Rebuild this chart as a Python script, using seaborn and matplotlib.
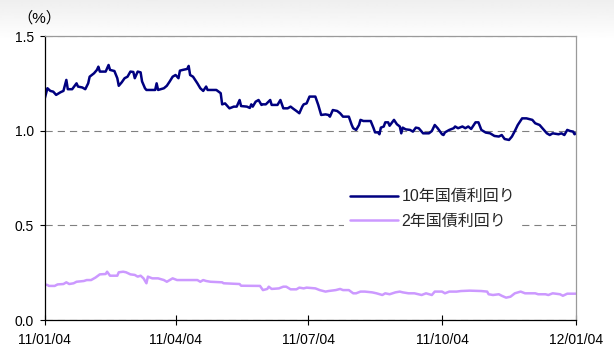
import numpy as np
import pandas as pd
import matplotlib
matplotlib.use("Agg")
import matplotlib.pyplot as plt
import matplotlib.dates as mdates
from matplotlib.ticker import FixedLocator, FormatStrFormatter
import seaborn as sns

# ---- data -------------------------------------------------------------
series_names = ["10年国債利回り", "2年国債利回り"]

dates_10y = [
    "2011-01-04", "2011-01-06", "2011-01-08", "2011-01-10", "2011-01-12", "2011-01-15",
    "2011-01-17", "2011-01-19", "2011-01-20", "2011-01-23", "2011-01-26", "2011-01-27",
    "2011-01-30", "2011-02-01", "2011-02-03", "2011-02-04", "2011-02-07", "2011-02-09",
    "2011-02-10", "2011-02-11", "2011-02-15", "2011-02-17", "2011-02-18", "2011-02-21",
    "2011-02-23", "2011-02-24", "2011-02-26", "2011-02-28", "2011-03-02", "2011-03-04",
    "2011-03-06", "2011-03-07", "2011-03-09", "2011-03-11", "2011-03-12", "2011-03-14",
    "2011-03-15", "2011-03-21", "2011-03-22", "2011-03-23", "2011-03-27", "2011-03-29",
    "2011-03-31", "2011-04-02", "2011-04-04", "2011-04-06", "2011-04-07", "2011-04-09",
    "2011-04-12", "2011-04-13", "2011-04-14", "2011-04-16", "2011-04-19", "2011-04-21",
    "2011-04-23", "2011-04-25", "2011-04-26", "2011-05-02", "2011-05-05", "2011-05-06",
    "2011-05-08", "2011-05-10", "2011-05-11", "2011-05-14", "2011-05-16", "2011-05-18",
    "2011-05-19", "2011-05-23", "2011-05-25", "2011-05-26", "2011-05-27", "2011-05-29",
    "2011-05-31", "2011-06-02", "2011-06-03", "2011-06-05", "2011-06-08", "2011-06-09",
    "2011-06-13", "2011-06-15", "2011-06-17", "2011-06-20", "2011-06-22", "2011-06-24",
    "2011-06-26", "2011-06-28", "2011-06-30", "2011-07-01", "2011-07-03", "2011-07-05",
    "2011-07-09", "2011-07-11", "2011-07-13", "2011-07-16", "2011-07-18", "2011-07-19",
    "2011-07-21", "2011-07-24", "2011-07-26", "2011-07-28", "2011-08-01", "2011-08-03",
    "2011-08-04", "2011-08-06", "2011-08-08", "2011-08-09", "2011-08-11", "2011-08-16",
    "2011-08-18", "2011-08-19", "2011-08-21", "2011-08-22", "2011-08-23", "2011-08-25",
    "2011-08-26", "2011-08-28", "2011-08-29", "2011-09-01", "2011-09-03", "2011-09-05",
    "2011-09-06", "2011-09-07", "2011-09-09", "2011-09-12", "2011-09-14", "2011-09-16",
    "2011-09-18", "2011-09-21", "2011-09-25", "2011-09-27", "2011-09-29", "2011-10-01",
    "2011-10-04", "2011-10-05", "2011-10-06", "2011-10-09", "2011-10-12", "2011-10-13",
    "2011-10-15", "2011-10-18", "2011-10-20", "2011-10-22", "2011-10-24", "2011-10-27",
    "2011-10-29", "2011-10-31", "2011-11-03", "2011-11-06", "2011-11-09", "2011-11-12",
    "2011-11-14", "2011-11-16", "2011-11-19", "2011-11-21", "2011-11-23", "2011-11-25",
    "2011-11-28", "2011-12-01", "2011-12-05", "2011-12-07", "2011-12-10", "2011-12-13",
    "2011-12-15", "2011-12-17", "2011-12-19", "2011-12-23", "2011-12-25", "2011-12-27",
    "2011-12-29", "2011-12-31", "2012-01-02", "2012-01-03", "2012-01-04",
]
yield_10y = [
    1.165, 1.224, 1.210, 1.206, 1.189, 1.203,
    1.210, 1.268, 1.219, 1.219, 1.250, 1.233,
    1.228, 1.219, 1.250, 1.285, 1.303, 1.321,
    1.338, 1.312, 1.312, 1.347, 1.321, 1.315,
    1.277, 1.237, 1.255, 1.277, 1.285, 1.312,
    1.310, 1.277, 1.312, 1.308, 1.260, 1.224,
    1.215, 1.215, 1.250, 1.215, 1.224, 1.237,
    1.260, 1.285, 1.294, 1.277, 1.317, 1.321,
    1.326, 1.342, 1.294, 1.285, 1.250, 1.224,
    1.210, 1.233, 1.215, 1.215, 1.198, 1.139,
    1.144, 1.127, 1.118, 1.127, 1.127, 1.162,
    1.130, 1.127, 1.120, 1.139, 1.127, 1.153,
    1.162, 1.136, 1.139, 1.139, 1.162, 1.136,
    1.136, 1.162, 1.118, 1.118, 1.127, 1.115,
    1.104, 1.092, 1.127, 1.139, 1.144, 1.180,
    1.180, 1.136, 1.083, 1.086, 1.083, 1.074,
    1.109, 1.104, 1.092, 1.074, 1.074, 1.030,
    1.013, 1.004, 1.030, 1.057, 1.051, 1.051,
    1.013, 0.991, 0.991, 0.981, 1.016, 1.022,
    1.044, 1.044, 1.026, 1.057, 1.034, 1.022,
    0.986, 1.016, 1.007, 1.004, 0.995, 1.016,
    1.013, 0.986, 0.986, 0.998, 1.030, 1.013,
    0.981, 0.977, 0.991, 1.004, 1.013, 1.022,
    1.013, 1.022, 1.013, 1.022, 1.009, 1.044,
    1.044, 1.004, 0.990, 0.986, 0.972, 0.969,
    0.977, 0.956, 0.951, 0.969, 0.998, 1.030,
    1.065, 1.065, 1.057, 1.039, 1.030, 1.004,
    0.986, 0.977, 0.986, 0.981, 0.986, 0.977,
    1.004, 0.998, 0.995, 0.981, 0.986,
]

dates_2y = [
    "2011-01-04", "2011-01-06", "2011-01-07", "2011-01-11", "2011-01-13", "2011-01-17",
    "2011-01-19", "2011-01-21", "2011-01-24", "2011-01-26", "2011-01-31", "2011-02-02",
    "2011-02-05", "2011-02-08", "2011-02-11", "2011-02-15", "2011-02-16", "2011-02-18",
    "2011-02-23", "2011-02-24", "2011-02-27", "2011-03-01", "2011-03-04", "2011-03-07",
    "2011-03-09", "2011-03-11", "2011-03-13", "2011-03-15", "2011-03-16", "2011-03-19",
    "2011-03-23", "2011-03-27", "2011-03-29", "2011-03-31", "2011-04-02", "2011-04-05",
    "2011-04-19", "2011-04-21", "2011-04-23", "2011-04-25", "2011-04-28", "2011-05-06",
    "2011-05-07", "2011-05-18", "2011-05-19", "2011-06-01", "2011-06-03", "2011-06-06",
    "2011-06-07", "2011-06-09", "2011-06-14", "2011-06-17", "2011-06-19", "2011-06-22",
    "2011-06-26", "2011-06-28", "2011-07-01", "2011-07-03", "2011-07-09", "2011-07-12",
    "2011-07-16", "2011-07-18", "2011-07-23", "2011-07-26", "2011-07-28", "2011-08-01",
    "2011-08-04", "2011-08-06", "2011-08-09", "2011-08-12", "2011-08-17", "2011-08-20",
    "2011-08-24", "2011-08-26", "2011-08-29", "2011-09-02", "2011-09-05", "2011-09-07",
    "2011-09-11", "2011-09-15", "2011-09-20", "2011-09-23", "2011-09-27", "2011-09-29",
    "2011-10-04", "2011-10-06", "2011-10-09", "2011-10-14", "2011-10-17", "2011-10-23",
    "2011-10-31", "2011-11-04", "2011-11-05", "2011-11-08", "2011-11-12", "2011-11-14",
    "2011-11-17", "2011-11-20", "2011-11-23", "2011-11-27", "2011-11-30", "2011-12-07",
    "2011-12-09", "2011-12-14", "2011-12-16", "2011-12-19", "2011-12-24", "2011-12-26",
    "2011-12-29", "2012-01-04",
]
yield_2y = [
    0.188, 0.185, 0.180, 0.180, 0.188, 0.190,
    0.199, 0.190, 0.194, 0.202, 0.206, 0.211,
    0.211, 0.224, 0.241, 0.243, 0.255, 0.234,
    0.234, 0.252, 0.255, 0.252, 0.241, 0.238,
    0.229, 0.234, 0.220, 0.194, 0.229, 0.220,
    0.220, 0.211, 0.202, 0.211, 0.220, 0.211,
    0.211, 0.202, 0.211, 0.206, 0.202, 0.199,
    0.194, 0.190, 0.181, 0.180, 0.158, 0.164,
    0.176, 0.164, 0.167, 0.176, 0.176, 0.162,
    0.162, 0.171, 0.167, 0.171, 0.167, 0.158,
    0.150, 0.153, 0.158, 0.164, 0.158, 0.158,
    0.141, 0.141, 0.150, 0.150, 0.146, 0.141,
    0.132, 0.141, 0.136, 0.146, 0.150, 0.146,
    0.141, 0.141, 0.132, 0.141, 0.132, 0.150,
    0.150, 0.141, 0.150, 0.150, 0.153, 0.155,
    0.153, 0.150, 0.136, 0.132, 0.136, 0.128,
    0.118, 0.123, 0.141, 0.150, 0.141, 0.141,
    0.136, 0.136, 0.132, 0.141, 0.136, 0.128,
    0.139, 0.139,
]

tick_dates = ["2011-01-04", "2011-04-04", "2011-07-04", "2011-10-04", "2012-01-04"]
y_ticks = [0.0, 0.5, 1.0, 1.5]
unit_label = "（%）"

# ---- styling ----------------------------------------------------------
sns.set_theme(style="white")
plt.rcParams["font.family"] = ["Liberation Sans", "Noto Sans CJK JP", "DejaVu Sans"]

colors = {series_names[0]: "#000080", series_names[1]: "#CC99FF"}

df = pd.concat([
    pd.DataFrame({"date": pd.to_datetime(dates_10y), "yield": yield_10y,
                  "series": series_names[0]}),
    pd.DataFrame({"date": pd.to_datetime(dates_2y), "yield": yield_2y,
                  "series": series_names[1]}),
], ignore_index=True)

W, H = 614, 349
fig = plt.figure(figsize=(W / 100, H / 100), dpi=100)
fig.patch.set_facecolor("white")

# soft grey band fading out at the top of the canvas
bg = fig.add_axes([0, 0, 1, 1], zorder=0)
rows = np.ones((H, 1))
fade = np.clip(np.arange(H) / 40.0, 0, 1)
rows[:, 0] = 0.935 + 0.065 * fade
bg.imshow(rows, cmap="gray", vmin=0, vmax=1, aspect="auto",
          extent=[0, 1, 0, 1], origin="upper", interpolation="bilinear")
bg.set_axis_off()

ax = fig.add_axes([44.5 / W, 29 / H, 531.5 / W, 284 / H], zorder=1)
ax.set_facecolor("white")

sns.lineplot(data=df, x="date", y="yield", hue="series", palette=colors,
             hue_order=series_names, estimator=None, sort=True,
             linewidth=1.8, ax=ax)

# axes ranges and ticks
ax.set_xlim(pd.Timestamp(tick_dates[0]), pd.Timestamp(tick_dates[-1]))
ax.set_ylim(y_ticks[0], y_ticks[-1])
ax.xaxis.set_major_locator(FixedLocator(mdates.date2num(pd.to_datetime(tick_dates))))
ax.xaxis.set_major_formatter(mdates.DateFormatter("%y/%m/%d"))
ax.set_yticks(y_ticks)
ax.yaxis.set_major_formatter(FormatStrFormatter("%.1f"))
ax.set_xlabel("")
ax.set_ylabel("")

ax.tick_params(axis="x", direction="inout", length=7, width=0.8, color="black",
               pad=6, labelsize=10, labelcolor="black", bottom=True)
ax.tick_params(axis="y", direction="out", length=3.6, width=0.8, color="black",
               pad=4, labelsize=10, labelcolor="black", left=True)

# dashed horizontal grid
ax.yaxis.grid(True, linestyle=(0, (6.5, 4.5)), color="#808080", linewidth=0.8)
ax.xaxis.grid(False)
ax.set_axisbelow(True)

for side in ("left", "bottom"):
    ax.spines[side].set_color("black")
    ax.spines[side].set_linewidth(0.9)
for side in ("top", "right"):
    ax.spines[side].set_color("#9a9a9a")
    ax.spines[side].set_linewidth(0.9)

# unit label above the y axis
fig.text(39 / W, 1 - 18 / H, unit_label, ha="center", va="center",
         fontsize=11, color="black")

# legend with white box over the grid
handles, labels = ax.get_legend_handles_labels()
leg = ax.legend(handles, labels, loc="center left",
                bbox_to_anchor=(344 / W, 1 - 209 / H), bbox_transform=fig.transFigure,
                frameon=True, fancybox=False, framealpha=1.0, facecolor="white",
                edgecolor="none", fontsize=11.5, handlelength=3.0,
                handletextpad=0.2, labelspacing=0.6, borderpad=0.4,
                borderaxespad=0)
for line in leg.get_lines():
    line.set_linewidth(1.8)

fig.savefig("out.png", dpi=100)
